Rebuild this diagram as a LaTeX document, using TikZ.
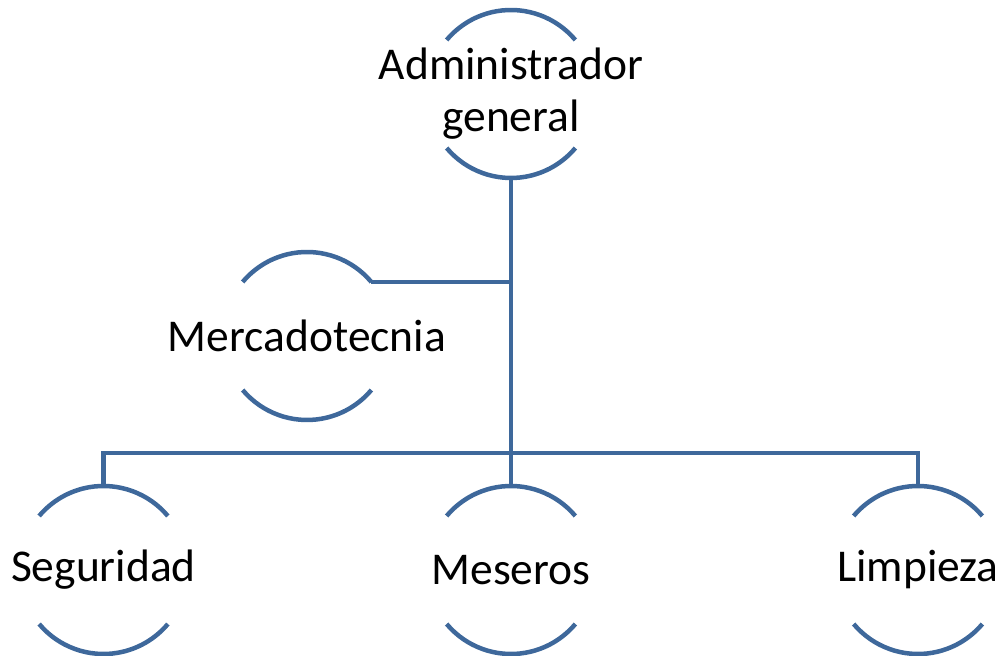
\documentclass[tikz,border=0pt]{standalone}
\usepackage{fontspec}
\setmainfont{Carlito}
\usepackage{tikz}
\usetikzlibrary{positioning}
\definecolor{orgblue}{RGB}{62,104,155}
\newcommand{\RingRad}{84bp}

\begin{document}
\begin{tikzpicture}[x=1bp, y=1bp,
    unit/.style={circle, minimum size=168bp, inner sep=0pt, outer sep=0pt,
        label={[font=\fontsize{45.5bp}{52bp}\selectfont, align=center]center:#1}},
    ring/.style={orgblue, line width=4.5bp},
    link/.style={orgblue, line width=4.5bp}]
        \useasboundingbox (0,0) rectangle (1003,656);
        % units
        \node[unit={Administrador\\general}] (adm) at (511,562) {};
        \node[unit=Mercadotecnia] (mer) at (307,320) {};
        \node[unit=Seguridad] (seg) at (103.5,86) {};
        \node[unit=Meseros] (mes) at (511,86) {};
        \node[unit=Limpieza] (lim) at (918,86) {};
        % open rings round the units
        \foreach \n in {adm,mer,seg,mes,lim}
        {
        \draw[ring] (\n.40) arc[start angle=40, end angle=140, radius=\RingRad];
        \draw[ring] (\n.220) arc[start angle=220, end angle=320, radius=\RingRad];
        }
        % connectors
        \coordinate (bus) at (511,203);
        \draw[link] (adm.south) -- (mes.north);
        \draw[link] (mer.40) -- (mer.40 -| adm.south);
        \draw[link] (seg.north) -- (seg.north |- bus) -- (lim.north |- bus) -- (lim.north);
    \end{tikzpicture}
\end{document}
